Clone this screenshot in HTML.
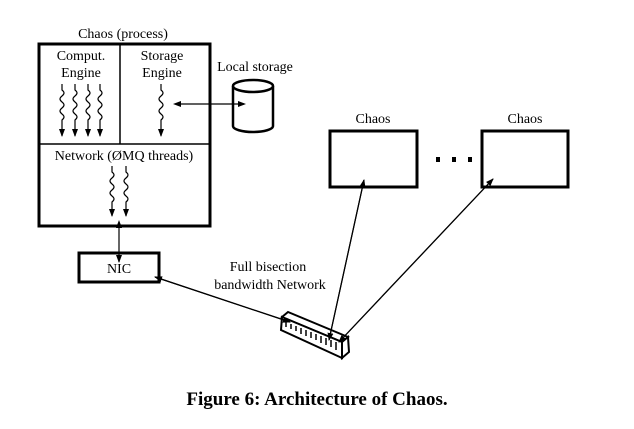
<!DOCTYPE html>
<html><head><meta charset="utf-8"><style>
html,body{margin:0;padding:0;background:#fff;}
svg{display:block;}
svg text{font-family:"Liberation Serif","DejaVu Serif",serif !important;fill:#000;}
</style></head><body>
<svg width="634" height="429" viewBox="0 0 634 429" xmlns="http://www.w3.org/2000/svg" font-family="Liberation Serif, serif">
<defs>
<marker id="a" markerWidth="8" markerHeight="8" refX="7" refY="4" orient="auto" markerUnits="userSpaceOnUse">
<path d="M0,1 L8,4 L0,7 Z" fill="#000"/></marker>
</defs>
<text x="123" y="38" font-size="14" text-anchor="middle">Chaos (process)</text>
<rect x="39" y="44" width="171" height="182" fill="none" stroke="#000" stroke-width="3"/>
<line x1="120" y1="44" x2="120" y2="144" stroke="#000" stroke-width="1.5"/>
<line x1="39" y1="144" x2="210" y2="144" stroke="#000" stroke-width="1.5"/>
<text x="81" y="60" font-size="14" text-anchor="middle">Comput.</text>
<text x="81" y="77" font-size="14" text-anchor="middle">Engine</text>
<text x="162" y="60" font-size="14" text-anchor="middle">Storage</text>
<text x="162" y="77" font-size="14" text-anchor="middle">Engine</text>
<text x="124" y="160" font-size="14" text-anchor="middle">Network (ØMQ threads)</text>
<text x="255" y="71" font-size="14" text-anchor="middle">Local storage</text>
<g fill="none" stroke="#000" stroke-width="1.2" marker-end="url(#a)">
<path d="M62,84 v6 q4,3 0,6 q-4,3 0,6 q4,3 0,6 q-4,3 0,6 q4,3 0,6 v16"/>
<path d="M75,84 v6 q4,3 0,6 q-4,3 0,6 q4,3 0,6 q-4,3 0,6 q4,3 0,6 v16"/>
<path d="M88,84 v6 q4,3 0,6 q-4,3 0,6 q4,3 0,6 q-4,3 0,6 q4,3 0,6 v16"/>
<path d="M100,84 v6 q4,3 0,6 q-4,3 0,6 q4,3 0,6 q-4,3 0,6 q4,3 0,6 v16"/>
<path d="M161,84 v6 q4,3 0,6 q-4,3 0,6 q4,3 0,6 q-4,3 0,6 q4,3 0,6 v16"/>
<path d="M112,166 v6 q4,3 0,6 q-4,3 0,6 q4,3 0,6 q-4,3 0,6 q4,3 0,6 v14"/>
<path d="M126,166 v6 q4,3 0,6 q-4,3 0,6 q4,3 0,6 q-4,3 0,6 q4,3 0,6 v14"/>
</g>
<!-- cylinder -->
<path d="M233,86 v40 a20,6 0 0 0 40,0 v-40" fill="#fff" stroke="#000" stroke-width="2.5"/>
<ellipse cx="253" cy="86" rx="20" ry="6" fill="#fff" stroke="#000" stroke-width="2.5"/>
<line x1="176" y1="104" x2="244" y2="104" stroke="#000" stroke-width="1.2"/>
<path d="M173,104 l8,-3 v6 z" fill="#000"/>
<path d="M246,104 l-8,-3 v6 z" fill="#000"/>
<!-- NIC vertical -->
<line x1="119" y1="226" x2="119" y2="262" stroke="#000" stroke-width="1.2" marker-end="url(#a)"/>
<path d="M119,220 l-3,8 h6 z" fill="#000"/>
<rect x="79" y="253" width="80" height="29" fill="none" stroke="#000" stroke-width="3"/>
<text x="119" y="273" font-size="14" text-anchor="middle">NIC</text>
<text x="268" y="271" font-size="14" text-anchor="middle">Full bisection</text>
<text x="270" y="289" font-size="14" text-anchor="middle">bandwidth Network</text>
<!-- chaos boxes -->
<text x="373" y="123" font-size="14" text-anchor="middle">Chaos</text>
<rect x="330" y="131" width="87" height="56" fill="none" stroke="#000" stroke-width="3"/>
<text x="525" y="123" font-size="14" text-anchor="middle">Chaos</text>
<rect x="482" y="131" width="86" height="56" fill="none" stroke="#000" stroke-width="3"/>
<rect x="436" y="157" width="4" height="5" fill="#000"/>
<rect x="452" y="157" width="4" height="5" fill="#000"/>
<rect x="468" y="157" width="4" height="5" fill="#000"/>
<!-- switch -->
<path d="M282,317 L288,312 L348,337 L342,342 Z" fill="#fff" stroke="#000" stroke-width="2"/>
<path d="M282,317 L342,342 L342,358 L281,330 Z" fill="#fff" stroke="#000" stroke-width="2"/>
<path d="M342,342 L348,337 L349,352 L342,358 Z" fill="#fff" stroke="#000" stroke-width="2"/>
<g stroke="#000" stroke-width="1.5">
<line x1="286" y1="322" x2="286" y2="327"/><line x1="291" y1="324" x2="291" y2="329"/>
<line x1="296" y1="326" x2="296" y2="331"/><line x1="301" y1="328" x2="301" y2="334"/>
<line x1="306" y1="330" x2="306" y2="336"/><line x1="311" y1="332" x2="311" y2="338"/>
<line x1="316" y1="334" x2="316" y2="340"/><line x1="321" y1="336" x2="321" y2="343"/>
<line x1="326" y1="338" x2="326" y2="345"/><line x1="331" y1="340" x2="331" y2="347"/>
<line x1="336" y1="342" x2="336" y2="350"/>
</g>
<!-- connectors -->
<g stroke="#000" stroke-width="1.2" fill="none">
<line x1="155" y1="277" x2="290" y2="322" marker-end="url(#a)"/>
<line x1="290" y1="322" x2="155" y2="277" marker-end="url(#a)"/>
<line x1="364" y1="180" x2="329" y2="340" marker-end="url(#a)"/>
<line x1="329" y1="340" x2="364" y2="180" marker-end="url(#a)"/>
<line x1="493" y1="179" x2="339" y2="342" marker-end="url(#a)"/>
<line x1="339" y1="342" x2="493" y2="179" marker-end="url(#a)"/>
</g>
<text x="317" y="405" font-size="19" font-weight="bold" text-anchor="middle">Figure 6: Architecture of Chaos.</text>
</svg>
</body></html>
